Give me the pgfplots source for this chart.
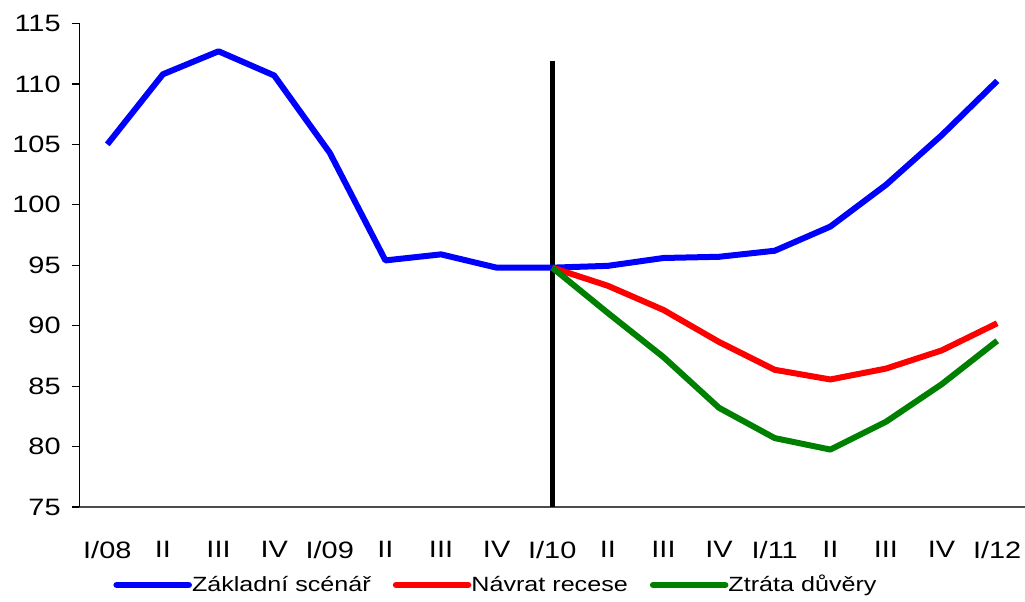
\documentclass[border=0pt]{standalone}
\usepackage{fontspec}
\setmainfont{Liberation Sans}[FakeStretch=1.22]
\usepackage{pgfplots}
\pgfplotsset{compat=1.18}
\begin{document}
\begin{tikzpicture}
\begin{axis}[
  scale only axis,
  width=472.75pt, height=241.75pt,
  xmin=-0.5, xmax=16.5,
  ymin=75, ymax=115,
  ytick={75,80,...,115},
  xtick={0,...,16},
  xticklabels={I/08,II,III,IV,I/09,II,III,IV,I/10,II,III,IV,I/11,II,III,IV,I/12},
  axis x line=bottom, axis y line=left,
  axis line style={-, line width=0.6pt},
  x axis line style={draw=black!70},
  tick align=outside,
  major tick length=4pt,
  xtick style={draw=none},
  ytick style={line width=0.6pt, black},
  /pgf/number format/assume math mode=true,
  tick label style={font=\fontsize{11.85}{13}\selectfont},
  yticklabel style={anchor=east, inner sep=0pt, xshift=-5.25pt},
  xticklabel style={anchor=north, inner sep=0pt, yshift=-13pt},
  legend columns=3,
  legend style={draw=none, fill=none, at={(16.75pt,-39pt)}, anchor=west,
    font=\fontsize{10.3}{12}\selectfont, inner sep=0pt,
    /tikz/every odd column/.append style={column sep=-2pt},
    /tikz/every even column/.append style={column sep=9pt}},
  legend image code/.code={\draw[#1, line width=3.3pt, line cap=round] (0pt,0pt) -- (36pt,0pt);},
  legend cell align=left,
]
\addplot[black, line width=2.5pt, forget plot] coordinates {(8,75) (8,111.9)};
\addplot[blue, line width=3pt, line join=round] coordinates {
(0,105.0) (1,110.8) (2,112.7) (3,110.7) (4,104.3) (5,95.4) (6,95.9) (7,94.8) (8,94.8)
(9,94.95) (10,95.6) (11,95.7) (12,96.2) (13,98.2) (14,101.65) (15,105.75) (16,110.25)};
\addlegendentry{Základní scénář}
\addplot[red, line width=3pt, line join=round] coordinates {
(8,94.8) (9,93.3) (10,91.3) (11,88.65) (12,86.35) (13,85.55) (14,86.45) (15,87.95) (16,90.2)};
\addlegendentry{Návrat recese}
\addplot[green!50!black, line width=3pt, line join=round] coordinates {
(8,94.8) (9,91.05) (10,87.4) (11,83.2) (12,80.7) (13,79.75) (14,82.05) (15,85.15) (16,88.75)};
\addlegendentry{Ztráta důvěry}
\end{axis}
\pgfresetboundingbox
\path ([shift={(-39.75pt,-47.5pt)}]current axis.south west) rectangle ([shift={(0pt,11.75pt)}]current axis.north east);
\end{tikzpicture}
\end{document}
